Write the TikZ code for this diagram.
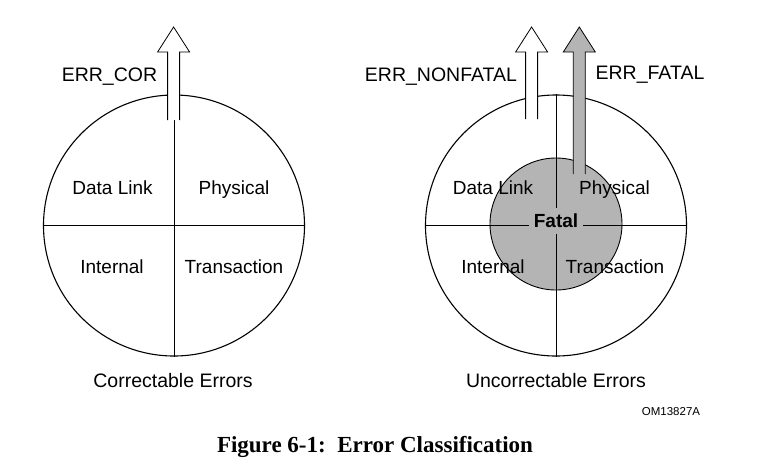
\documentclass[tikz,border=0pt]{standalone}
\usepackage{fontspec}
\setmainfont{Liberation Sans}
\newfontfamily\captionserif{Liberation Serif}
\begin{document}
\begin{tikzpicture}[x=1pt,y=-1pt,
  ring/.style={circle,draw,line width=1.1pt,minimum size=261pt,inner sep=0pt},
  divider/.style={line width=0.85pt},
  quad/.style={anchor=base,font=\fontsize{19}{22}\selectfont,inner sep=0pt},
  sig/.style={anchor=base,font=\fontsize{19.5}{22}\selectfont,inner sep=0pt},
  arrowline/.style={line width=0.8pt}]
\definecolor{fatalgray}{RGB}{180,180,180}
% block arrow: tip, shaft length, fill colour
\newcommand\errarrow[3]{%
  \fill[#3] (#1) -- ++(16,25) -- ++(-10,0) -- ++(0,#2) -- ++(-12,0) -- ++(0,-#2) -- ++(-10,0) -- cycle;
  \draw[arrowline] ([shift={(6,{25+#2})}]#1) -- ++(0,-#2) -- ++(10,0) -- (#1) -- ++(-16,25) -- ++(10,0) -- ++(0,#2);}
\useasboundingbox (0,0) rectangle (757,472);
\fill[white] (0,0) rectangle (757,472);

% correctable errors
\node[ring] (cor) at (174,225.5) {};
\draw[divider] (cor.north) -- (cor.south);
\draw[divider] (cor.west) -- (cor.east);
\coordinate (corTip) at (173.6,27);
\errarrow{corTip}{68}{white}
\node[sig] (errcor) at (109.5,81) {ERR\_COR};
\node[quad] (cdl) at (112.5,194.3) {Data Link};
\node[quad] (cph) at (234,194.3) {Physical};
\node[quad] (cin) at (112,273.3) {Internal};
\node[quad] (ctr) at (234,273.3) {Transaction};
\node[anchor=base,font=\fontsize{19.5}{22}\selectfont,inner sep=0pt] (corcap) at (173,387) {Correctable Errors};

% uncorrectable errors
\node[ring] (unc) at (556,225.5) {};
\node[circle,draw,fill=fatalgray,line width=0.9pt,minimum size=132pt,inner sep=0pt] (fatalzone) at (556,224) {};
\draw[divider] (unc.north) -- (unc.south);
\draw[divider] (unc.west) -- (unc.east);
\node[anchor=base,fill=fatalgray,inner xsep=4.5pt,inner ysep=6pt,text height=14pt,text depth=0pt,
      font=\bfseries\fontsize{19}{22}\selectfont] (fatal) at (556,227.7) {Fatal};
\coordinate (nfTip) at (531.6,27);
\errarrow{nfTip}{67}{white}
\coordinate (fTip) at (579.3,27);
\errarrow{fTip}{122}{fatalgray}
\node[sig] (errnf) at (441,81) {ERR\_NONFATAL};
\node[sig] (errf) at (650,79) {ERR\_FATAL};
\node[quad] (udl) at (493,194.3) {Data Link};
\node[quad] (uph) at (614.5,194.3) {Physical};
\node[quad] (uin) at (493,273.3) {Internal};
\node[quad] (utr) at (615,273.3) {Transaction};
\node[anchor=base,font=\fontsize{19.5}{22}\selectfont,inner sep=0pt] (unccap) at (556,387) {Uncorrectable Errors};

\node[anchor=base,font=\fontsize{11.5}{13}\selectfont,inner sep=0pt] (figid) at (671,415) {OM13827A};
\node[anchor=base,font=\captionserif\bfseries\fontsize{23}{27}\selectfont,inner sep=0pt] (caption) at (375,452.7)
  {Figure 6-1:\ \ Error Classification};
\end{tikzpicture}
\end{document}
